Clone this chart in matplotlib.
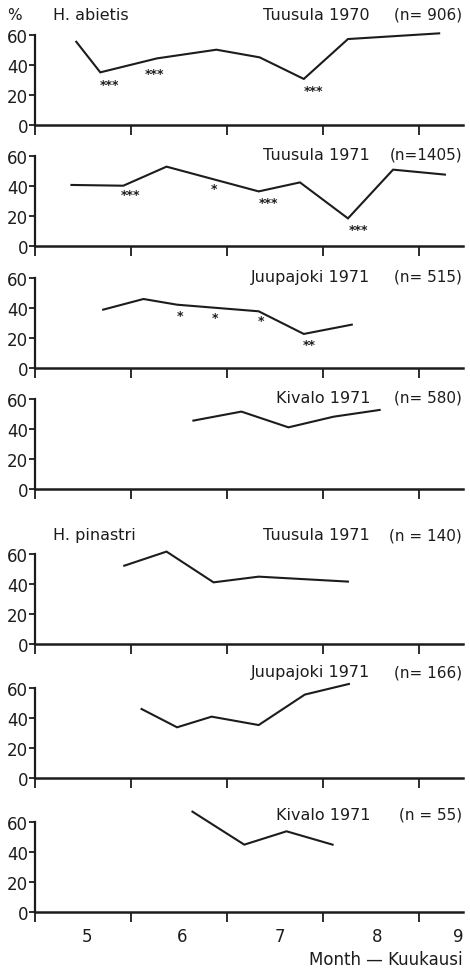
import matplotlib
matplotlib.use("Agg")
import matplotlib.pyplot as plt

# x values are months (5.0 = start of May), y values are %
x_ab_tuu70 = [5.43, 5.68, 6.27, 6.89, 7.34, 7.80, 8.26, 9.21]
y_ab_tuu70 = [55.5, 35.1, 44.4, 50.2, 45.1, 30.7, 57.3, 61.1]
sx_ab_tuu70 = [5.78, 6.24, 7.90]
sy_ab_tuu70 = [27.8, 35.1, 24.0]
st_ab_tuu70 = ['***', '***', '***']

x_ab_tuu71 = [5.38, 5.92, 6.37, 7.33, 7.76, 8.26, 8.73, 9.27]
y_ab_tuu71 = [40.7, 40.2, 52.9, 36.4, 42.4, 18.4, 50.9, 47.6]
sx_ab_tuu71 = [5.99, 6.86, 7.43, 8.37]
sy_ab_tuu71 = [35.1, 39.1, 30.2, 11.8]
st_ab_tuu71 = ['***', '*', '***', '***']

x_ab_juu71 = [5.71, 6.13, 6.48, 7.33, 7.80, 8.30]
y_ab_juu71 = [38.9, 46.0, 42.2, 37.8, 22.7, 28.9]
sx_ab_juu71 = [6.51, 6.88, 7.35, 7.86]
sy_ab_juu71 = [36.0, 34.4, 32.4, 16.4]
st_ab_juu71 = ['*', '*', '*', '**']

x_ab_kiv71 = [6.65, 7.15, 7.64, 8.11, 8.59]
y_ab_kiv71 = [45.6, 51.6, 41.1, 48.2, 52.7]

x_pi_tuu71 = [5.93, 6.37, 6.86, 7.33, 8.26]
y_pi_tuu71 = [52.2, 61.6, 41.1, 44.9, 41.6]

x_pi_juu71 = [6.11, 6.48, 6.84, 7.33, 7.81, 8.27]
y_pi_juu71 = [46.0, 33.8, 40.9, 35.3, 55.6, 62.7]

x_pi_kiv71 = [6.64, 7.18, 7.62, 8.10]
y_pi_kiv71 = [66.9, 44.9, 53.8, 44.9]

sites = ['Tuusula 1970', 'Tuusula 1971', 'Juupajoki 1971', 'Kivalo 1971',
         'Tuusula 1971', 'Juupajoki 1971', 'Kivalo 1971']
n_labels = ['(n= 906)', '(n=1405)', '(n= 515)', '(n= 580)',
            '(n = 140)', '(n= 166)', '(n = 55)']
species = {0: 'H. abietis', 4: 'H. pinastri'}
month_ticks = [5, 6, 7, 8, 9]
month_labels = ['5', '6', '7', '8', '9']
yticks = [0, 20, 40, 60]

panels = [
    (x_ab_tuu70, y_ab_tuu70, sx_ab_tuu70, sy_ab_tuu70, st_ab_tuu70),
    (x_ab_tuu71, y_ab_tuu71, sx_ab_tuu71, sy_ab_tuu71, st_ab_tuu71),
    (x_ab_juu71, y_ab_juu71, sx_ab_juu71, sy_ab_juu71, st_ab_juu71),
    (x_ab_kiv71, y_ab_kiv71, [], [], []),
    (x_pi_tuu71, y_pi_tuu71, [], [], []),
    (x_pi_juu71, y_pi_juu71, [], [], []),
    (x_pi_kiv71, y_pi_kiv71, [], [], []),
]

# layout in pixels
W, H = 470, 970
zero_px = [126, 247, 369, 490, 645, 779, 913]
label_y = [74, 61.3, 61.3, 61.3, 72.7, 70.7, 65.3]
ppu = 1.5
ytop = 75
x0, x1 = 35, 463
xmin = 5.0
xmax = xmin + (x1 - x0) / 96.0
ink = '#1c1c1c'

fig = plt.figure(figsize=(W / 100, H / 100), dpi=100)

for i, (xs, ys, sx, sy, st) in enumerate(panels):
    bottom = 1 - zero_px[i] / H
    ax = fig.add_axes([x0 / W, bottom, (x1 - x0) / W, ytop * ppu / H])
    ax.set_xlim(xmin, xmax)
    ax.set_ylim(0, ytop)
    ax.patch.set_visible(False)

    ax.plot(xs, ys, color=ink, lw=1.5, solid_joinstyle='miter')
    for a, b, s in zip(sx, sy, st):
        ax.text(a, b, s, ha='center', va='center_baseline', fontsize=9,
                color=ink, fontweight='bold')

    for s in ['top', 'right']:
        ax.spines[s].set_visible(False)
    ax.spines['left'].set_bounds(0, 60)
    ax.spines['left'].set_linewidth(1.6)
    ax.spines['bottom'].set_linewidth(1.8)
    ax.spines['left'].set_color(ink)
    ax.spines['bottom'].set_color(ink)

    ax.set_yticks(yticks)
    ax.set_yticklabels([str(v) for v in yticks])
    ax.tick_params(axis='y', direction='out', length=4, width=1.3, pad=1,
                   labelsize=12, colors=ink)
    ax.set_xticks(month_ticks)
    ax.set_xticklabels([])
    ax.tick_params(axis='x', which='major', direction='out', length=7, width=1.3,
                   colors=ink)
    ax.set_xticks([5.54, 6.53, 7.55, 8.56, 9.41], minor=True)
    if i == len(panels) - 1:
        ax.set_xticklabels(month_labels, minor=True)
    else:
        ax.set_xticklabels([], minor=True)
    ax.tick_params(axis='x', which='minor', length=0, pad=11, labelsize=12,
                   colors=ink)

    ax.text(8.49, label_y[i], sites[i], ha='right', va='center', fontsize=11.5,
            color=ink, clip_on=False)
    ax.text(9.45, label_y[i], n_labels[i], ha='right', va='center', fontsize=11,
            color=ink, clip_on=False)
    if i in species:
        ax.text(5.19, label_y[i], species[i], ha='left', va='center', fontsize=11.5,
                color=ink, clip_on=False)
    if i == 0:
        ax.text(4.79, 74, '%', ha='center', va='center', fontsize=11, color=ink,
                clip_on=False)

fig.text(x1 / W, 1 - 960 / H, 'Month \u2014 Kuukausi', ha='right', va='center',
         fontsize=12, color=ink)

fig.savefig('out.png', dpi=100, facecolor='white')
